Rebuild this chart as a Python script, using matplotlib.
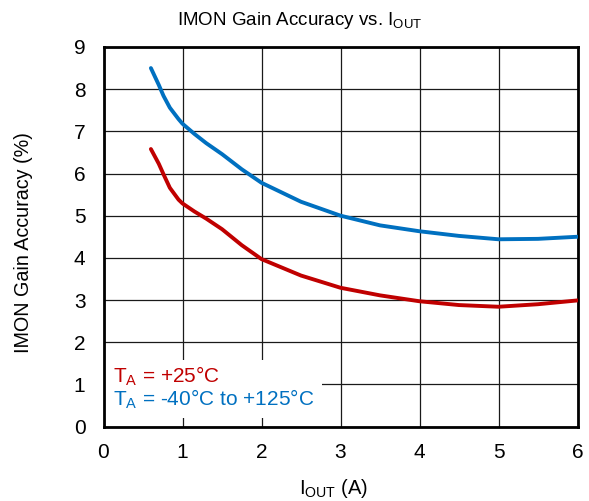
import matplotlib
matplotlib.use("Agg")
import matplotlib.pyplot as plt
from matplotlib.patches import Rectangle

plt.rcParams["font.family"] = ["Liberation Sans", "DejaVu Sans"]
plt.rcParams["mathtext.default"] = "regular"

# Output current (A)
i_out = [0.6, 0.7, 0.76, 0.84, 0.95, 1.0, 1.15, 1.3, 1.5, 1.75, 2.0, 2.5,
         3.0, 3.5, 4.0, 4.5, 5.0, 5.5, 6.0]
# Gain accuracy (%) over full temperature range
acc_full = [8.5, 8.1, 7.84, 7.56, 7.29, 7.18, 6.94, 6.72, 6.46, 6.1, 5.78, 5.33,
            5.0, 4.77, 4.63, 4.52, 4.44, 4.45, 4.5]
# Gain accuracy (%) at 25 C
acc_25 = [6.58, 6.23, 5.98, 5.66, 5.38, 5.29, 5.1, 4.93, 4.68, 4.3, 3.97, 3.58,
          3.29, 3.11, 2.97, 2.88, 2.84, 2.9, 2.99]

x_ticks = [0, 1, 2, 3, 4, 5, 6]
y_ticks = [0, 1, 2, 3, 4, 5, 6, 7, 8, 9]

RED = "#C00000"
BLUE = "#0070C0"

W, H = 589, 501
fig = plt.figure(figsize=(W / 100, H / 100), dpi=100)
ax = fig.add_axes([103.5 / W, 1 - 426.5 / H, 474 / W, 379.5 / H])

ax.plot(i_out, acc_25, color=RED, lw=2.8, zorder=3, solid_capstyle="round",
        solid_joinstyle="round")
ax.plot(i_out, acc_full, color=BLUE, lw=2.8, zorder=3, solid_capstyle="round",
        solid_joinstyle="round")

ax.set_xlim(0, 6)
ax.set_ylim(0, 9)
ax.set_xticks(x_ticks)
ax.set_yticks(y_ticks)
ax.tick_params(length=0, labelsize=15)
ax.tick_params(axis="y", pad=13)
ax.tick_params(axis="x", pad=12)
ax.grid(True, color="#1a1a1a", lw=0.9, zorder=0.5)
ax.set_axisbelow(True)
for s in ax.spines.values():
    s.set_linewidth(2.0)
    s.set_color("black")

# White backing for the annotation block
ax.add_patch(Rectangle((0.0, 0.2), 2.77, 1.38, facecolor="white",
                       edgecolor="none", zorder=2))
ax.text(0.115, 1.03, "$T_A$ = +25°C", color=RED, fontsize=15,
        va="baseline", ha="left", zorder=4)
ax.text(0.115, 0.486, "$T_A$ = -40°C to +125°C", color=BLUE, fontsize=15,
        va="baseline", ha="left", zorder=4)

fig.text(300 / W, 1 - 25 / H, "IMON Gain Accuracy vs. $I_{OUT}$",
         fontsize=13.5, ha="center", va="baseline")
fig.text(333.5 / W, 1 - 488 / H, "$I_{OUT}$ (A)", fontsize=14.5,
         ha="center", va="center")
fig.text(24 / W, 1 - 243 / H, "IMON Gain Accuracy (%)", fontsize=14.2,
         ha="center", va="center", rotation=90)

fig.savefig("out.png", dpi=100)
